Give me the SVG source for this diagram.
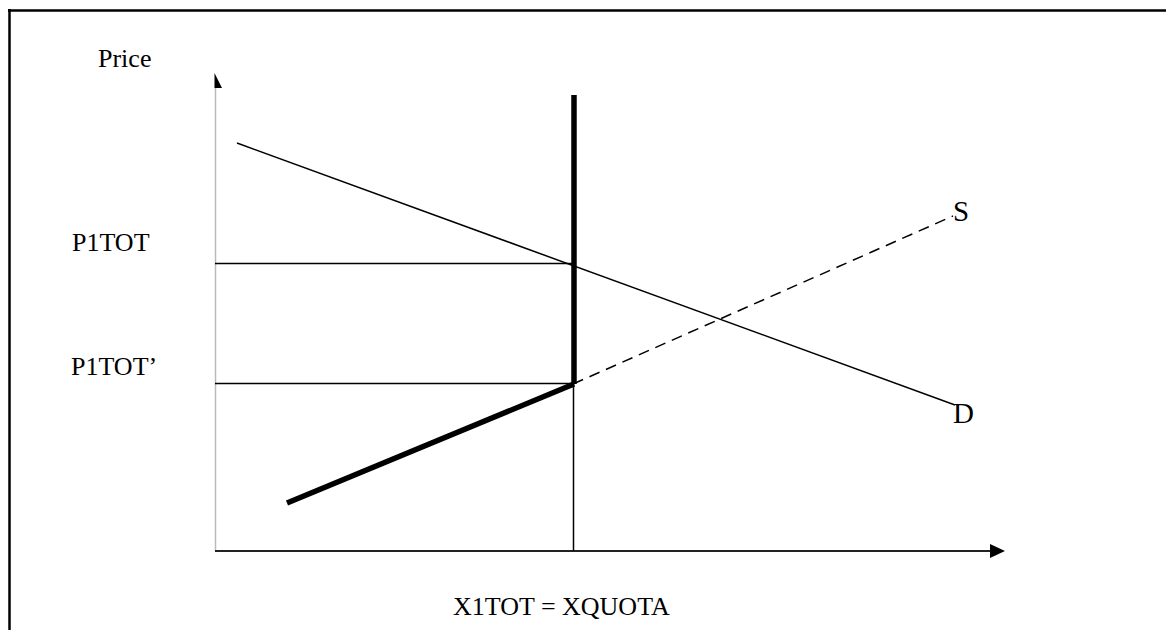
<svg xmlns="http://www.w3.org/2000/svg" width="1166" height="630" viewBox="0 0 1166 630">
<style>
.t{font-family:"Liberation Serif","Times New Roman",serif;fill:#000}
.thin{stroke:#000;stroke-width:1.5;fill:none}
.thick{stroke:#000;stroke-width:5.5;fill:none}
</style>
<rect x="0" y="0" width="1166" height="630" fill="#fff"/>
<g id="frame">
<line x1="8" y1="10.5" x2="1166" y2="10.5" stroke="#000" stroke-width="2.5"/>
<line x1="9.5" y1="9" x2="9.5" y2="630" stroke="#000" stroke-width="2.5"/>
</g>
<g id="axes">
<line x1="215.5" y1="86" x2="215.5" y2="551" stroke="#bbb" stroke-width="1.5"/>
<polygon points="214.5,73 222,88 214.5,88" fill="#000"/>
<line x1="215" y1="551" x2="992" y2="551" stroke="#222" stroke-width="2"/>
<polygon points="990,544 1005,551 990,558" fill="#000"/>
</g>
<g id="connectors">
<line class="thin" x1="215" y1="263.5" x2="573" y2="263.5"/>
<line class="thin" x1="215" y1="383.5" x2="573" y2="383.5"/>
<line class="thin" x1="573.5" y1="384" x2="573.5" y2="551"/>
<line class="thin" x1="237" y1="143" x2="955" y2="405"/>
<line class="thin" x1="573" y1="384" x2="953" y2="216" stroke-dasharray="11,7"/>
<line class="thick" x1="574" y1="95" x2="574" y2="384"/>
<line class="thick" x1="287" y1="503" x2="574" y2="384"/>
</g>
<g id="labels">
<text class="t" x="98" y="67" font-size="26">Price</text>
<text class="t" x="72" y="251" font-size="26">P1TOT</text>
<text class="t" x="71" y="375" font-size="26">P1TOT’</text>
<text class="t" x="453" y="615" font-size="26">X1TOT = XQUOTA</text>
<text class="t" x="953" y="221" font-size="29">S</text>
<text class="t" x="953" y="423" font-size="29">D</text>
</g>
</svg>
